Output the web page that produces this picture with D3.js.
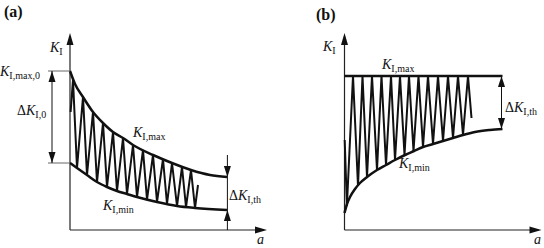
<!DOCTYPE html>
<html>
<head>
<meta charset="utf-8">
<script src="https://cdn.jsdelivr.net/npm/d3@7"></script>
<style>
  body { margin: 0; background: #fff; }
  svg { display: block; }
</style>
</head>
<body>
<script>
// ---- data (a = crack length, K = stress intensity, arbitrary units) ----
// panel (a): K_max and K_min both falling
var aMaxA = [0, 0.25, 0.65, 1.15, 1.65, 2.15, 2.65, 3.15, 4.15, 5.1, 6.05, 7.0, 7.85];
var kMaxA = [7.95, 7.3, 6.65, 5.9, 5.35, 4.9, 4.6, 4.25, 3.75, 3.35, 3.0, 2.75, 2.65];
var aMinA = [0, 0.35, 0.85, 1.35, 1.85, 2.35, 2.85, 3.35, 4.35, 5.35, 6.25, 7.85];
var kMinA = [3.35, 3.1, 2.75, 2.4, 2.15, 1.95, 1.8, 1.65, 1.4, 1.2, 1.1, 1.0];
var aZigA = [0.03, 0.15, 0.35, 0.65, 0.85, 1.15, 1.35, 1.65, 1.85, 2.15, 2.35, 2.65, 2.85, 3.15,
             3.35, 3.65, 3.85, 4.15, 4.35, 4.65, 4.85, 5.1, 5.35, 5.6, 5.8, 6.05, 6.25, 6.4];
var kZigA = [5.9, 7.5, 3.1, 6.65, 2.75, 5.9, 2.4, 5.35, 2.15, 4.9, 1.95, 4.6, 1.8, 4.25,
             1.65, 4.0, 1.52, 3.75, 1.4, 3.55, 1.3, 3.35, 1.2, 3.15, 1.15, 3.0, 1.1, 2.25];

// panel (b): K_max constant, K_min rising
var aMaxB = [0, 7.9];
var kMaxB = [7.7, 7.7];
var aMinB = [0, 0.125, 0.275, 0.525, 0.775, 1.125, 1.625, 2.075, 2.525, 3.025, 3.475, 3.925,
             4.425, 4.925, 5.425, 5.925, 6.525, 7.275, 7.9];
var kMinB = [0.85, 1.3, 1.65, 2.05, 2.35, 2.65, 3.0, 3.25, 3.5, 3.75, 3.95, 4.15,
             4.3, 4.45, 4.6, 4.75, 4.9, 5.0, 5.05];
var aZigB = [0.01, 0.12, 0.425, 0.675, 0.9, 1.125, 1.375, 1.625, 1.85, 2.075, 2.325, 2.525, 2.775, 3.0,
             3.225, 3.45, 3.7, 3.925, 4.175, 4.425, 4.675, 4.925, 5.175, 5.425, 5.675, 5.925, 6.175, 6.35];
var kZigB = [4.5, 1.2, 7.7, 2.2, 7.7, 2.65, 7.7, 3.0, 7.7, 3.25, 7.7, 3.5, 7.7, 3.75,
             7.7, 3.95, 7.7, 4.15, 7.7, 4.3, 7.7, 4.45, 7.7, 4.6, 7.7, 4.75, 7.7, 5.6];

var width = 544, height = 248;
var serif = "'Liberation Serif', 'DejaVu Serif', 'Times New Roman', serif";

var svg = d3.select("body").append("svg")
    .attr("width", width)
    .attr("height", height);

// shared vertical scale, one horizontal scale per panel
var y = d3.scaleLinear().domain([0, 10]).range([230, 30]);
var xA = d3.scaleLinear().domain([0, 10]).range([70, 270]);
var xB = d3.scaleLinear().domain([0, 10]).range([344.5, 544.5]);

function pairs(as, ks) { return as.map(function(a, i) { return [a, ks[i]]; }); }

// filled arrow head, tip at (x, y)
function head(tx, ty, dir, len, w) {
  len = len || 11; w = w || 3.5;
  var pts;
  if (dir == "up")    pts = [[tx, ty], [tx - w, ty + len], [tx + w, ty + len]];
  if (dir == "down")  pts = [[tx, ty], [tx - w, ty - len], [tx + w, ty - len]];
  if (dir == "right") pts = [[tx, ty], [tx - len, ty - w], [tx - len, ty + w]];
  svg.append("path").attr("d", "M" + pts.join("L") + "Z").attr("fill", "#111");
}

function seg(x1, y1, x2, y2, col, sw) {
  svg.append("line")
    .attr("x1", x1).attr("y1", y1).attr("x2", x2).attr("y2", y2)
    .attr("stroke", col || "#111").attr("stroke-width", sw || 1);
}

// text with italic main letter and small subscript
function label(x0, y0, parts, size) {
  var t = svg.append("text")
    .attr("x", x0).attr("y", y0)
    .attr("font-family", serif)
    .attr("font-size", size || 14)
    .attr("fill", "#111");
  parts.forEach(function(p) {
    var s = t.append("tspan").text(p[0]);
    if (p[1] == "i") s.attr("font-style", "italic");
    if (p[1] == "s") s.attr("font-size", 10).attr("dy", 3);
  });
  return t;
}

function drawPanel(x, curves, zig) {
  // axes
  seg(x(0), y(0), x(0), y(9.7), "#222", 1.2);
  seg(x(0), y(0), x(9.7), y(0), "#222", 1.2);
  head(x(0), y(9.85), "up", 12, 3.5);
  head(x(9.85), y(0), "right", 12, 3.5);

  var smooth = d3.line()
    .x(function(d) { return x(d[0]); })
    .y(function(d) { return y(d[1]); })
    .curve(d3.curveMonotoneX);

  curves.forEach(function(c) {
    svg.append("path").attr("d", smooth(c))
      .attr("fill", "none").attr("stroke", "#111").attr("stroke-width", 2.5);
  });

  var straight = d3.line()
    .x(function(d) { return x(d[0]); })
    .y(function(d) { return y(d[1]); });

  svg.append("path").attr("d", straight(zig))
    .attr("fill", "none").attr("stroke", "#111").attr("stroke-width", 2)
    .attr("stroke-linejoin", "bevel");
}

// ---------- panel (a) ----------
drawPanel(xA, [pairs(aMaxA, kMaxA), pairs(aMinA, kMinA)], pairs(aZigA, kZigA));

// start levels and the initial range
seg(xA(-1.1), y(kMaxA[0]), xA(0), y(kMaxA[0]), "#666", 1);
seg(xA(-1.1), y(kMinA[0]), xA(0), y(kMinA[0]), "#666", 1);
seg(xA(-0.9), y(kMaxA[0]), xA(-0.9), y(kMinA[0]), "#111", 1);
head(xA(-0.9), y(kMaxA[0]), "up");
head(xA(-0.9), y(kMinA[0]), "down");

// threshold range at the end
var aEnd = aMaxA[aMaxA.length - 1] + 0.02;
seg(xA(aEnd), y(3.75), xA(aEnd), y(0), "#111", 1);
head(xA(aEnd), y(kMaxA[kMaxA.length - 1]), "down");
head(xA(aEnd), y(kMinA[kMinA.length - 1]), "up");

label(4, 17, [["(a)"]], 16).attr("font-weight", "bold");
label(50, 52, [["K", "i"], ["I", "s"]]);
label(0, 76, [["K", "i"], ["I,max,0", "s"]]);
label(17, 115, [["\u0394"], ["K", "i"], ["I,0", "s"]]);
label(133, 137, [["K", "i"], ["I,max", "s"]]);
label(103, 210, [["K", "i"], ["I,min", "s"]]);
label(229, 200, [["\u0394"], ["K", "i"], ["I,th", "s"]]);
label(257, 244, [["a", "i"]]);

// ---------- panel (b) ----------
drawPanel(xB, [pairs(aMaxB, kMaxB), pairs(aMinB, kMinB)], pairs(aZigB, kZigB));

var bEnd = aMaxB[1] - 0.05;
seg(xB(bEnd), y(kMaxB[1]), xB(bEnd), y(kMinB[kMinB.length - 1]), "#111", 1);
head(xB(bEnd), y(kMaxB[1]), "up");
head(xB(bEnd), y(kMinB[kMinB.length - 1]), "down");

label(316, 20, [["(b)"]], 16).attr("font-weight", "bold");
label(323, 51, [["K", "i"], ["I", "s"]]);
label(382, 69, [["K", "i"], ["I,max", "s"]]);
label(399, 168, [["K", "i"], ["I,min", "s"]]);
label(505, 112, [["\u0394"], ["K", "i"], ["I,th", "s"]]);
label(534, 244, [["a", "i"]]);
</script>
</body>
</html>
